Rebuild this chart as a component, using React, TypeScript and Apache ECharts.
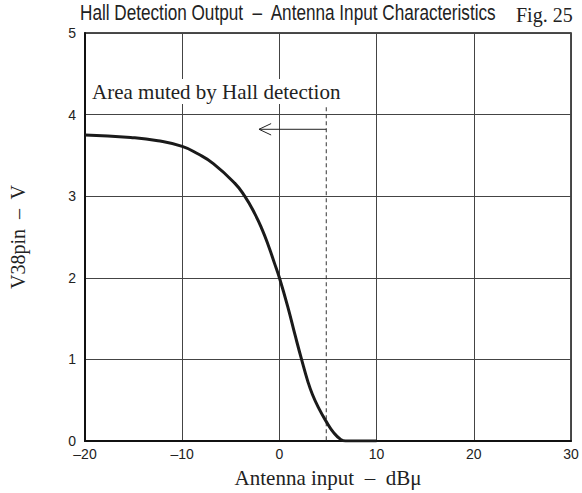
import React, { useEffect, useRef } from "react";
import * as echarts from "echarts";

const curveX = [-20, -15.3, -12.5, -10, -8.4, -6.8, -4.6, -3.57, -2.55, -1.77, -1.09, -0.51, 0, 0.85, 1.63, 2.28, 2.9, 3.4, 4.1, 4.76, 5.6, 6.3, 6.8, 8, 10];
const curveY = [3.75, 3.72, 3.68, 3.61, 3.52, 3.4, 3.16, 3.0, 2.79, 2.59, 2.38, 2.18, 2.0, 1.65, 1.29, 1.0, 0.74, 0.57, 0.39, 0.25, 0.1, 0.02, 0, 0, 0];

const muteX = 4.82;
const muteTopY = 4.09;
const arrowY = 3.82;
const arrowEndX = -2.1;

const xTicks = [-20, -10, 0, 10, 20, 30];
const yTicks = [0, 1, 2, 3, 4, 5];

const titleText = "Hall Detection Output  \u2013  Antenna Input Characteristics";
const figText = "Fig. 25";
const noteText = "Area muted by Hall detection";
const xName = "Antenna input  \u2013  dB\u03bc";
const yName = "V38pin  \u2013  V";

export default function App() {
  const ref = useRef<HTMLDivElement>(null);
  useEffect(() => {
    if (!ref.current) return;
    const chart = echarts.init(ref.current, undefined, { renderer: "svg" });
    const serif = "'Liberation Serif', 'Times New Roman', serif";
    const sans = "'Liberation Sans', Arial, sans-serif";
    const dash = (v: number) => String(v).replace("-", "\u2013");
    chart.setOption({
      animation: false,
      backgroundColor: "#fff",
      grid: { left: 81, right: 11, top: 33, bottom: 52, show: true, borderColor: "#111", borderWidth: 1.5, backgroundColor: "transparent" },
      xAxis: {
        type: "value",
        min: xTicks[0],
        max: xTicks[xTicks.length - 1],
        interval: 10,
        name: xName,
        nameLocation: "middle",
        nameGap: 26,
        nameTextStyle: { fontFamily: serif, fontSize: 21, color: "#222" },
        axisLine: { show: true, onZero: false, lineStyle: { color: "#111", width: 2 } },
        axisTick: { show: false },
        axisLabel: { fontFamily: sans, fontSize: 14, color: "#222", margin: 6, formatter: dash },
        splitLine: { show: true, lineStyle: { color: "#444", width: 1 } },
      },
      yAxis: {
        type: "value",
        min: yTicks[0],
        max: yTicks[yTicks.length - 1],
        interval: 1,
        name: yName,
        nameLocation: "middle",
        nameGap: 57,
        nameRotate: 90,
        nameTextStyle: { fontFamily: serif, fontSize: 20, color: "#222" },
        axisLine: { show: true, onZero: false, lineStyle: { color: "#111", width: 2 } },
        axisTick: { show: false },
        axisLabel: { fontFamily: sans, fontSize: 14, color: "#222", margin: 9, formatter: dash },
        splitLine: { show: true, lineStyle: { color: "#444", width: 1 } },
      },
      graphic: [
        {
          type: "text",
          x: 80,
          y: 1.5,
          scaleX: 0.78,
          z: 100,
          style: { text: titleText, font: `22px ${sans}`, fill: "#222", verticalAlign: "top" },
        },
        {
          type: "text",
          x: 516,
          y: 4.5,
          z: 100,
          style: { text: figText, font: `20px ${serif}`, fill: "#222", verticalAlign: "top" },
        },
        {
          type: "text",
          left: 90,
          top: 79,
          z: 100,
          style: {
            text: noteText,
            font: `21px ${serif}`,
            fill: "#222",
            backgroundColor: "#fff",
            padding: [2, 2, 2, 2],
          },
        },
      ],
      series: [
        {
          type: "line",
          data: curveX.map((x, i) => [x, curveY[i]]),
          smooth: 0.5,
          showSymbol: false,
          symbol: "none",
          lineStyle: { color: "#1a1a1a", width: 3 },
          z: 5,
        },
        {
          type: "line",
          data: [[muteX, muteTopY], [muteX, 0]],
          showSymbol: false,
          symbol: "none",
          lineStyle: { color: "#333", width: 1, type: [4, 3] },
          z: 4,
        },
        {
          type: "line",
          data: [[muteX, arrowY], [arrowEndX, arrowY]],
          showSymbol: false,
          symbol: "none",
          lineStyle: { color: "#222", width: 1 },
          z: 4,
        },
        {
          type: "line",
          data: [[arrowEndX + 1.25, arrowY + 0.07], [arrowEndX, arrowY], [arrowEndX + 1.25, arrowY - 0.07]],
          showSymbol: false,
          symbol: "none",
          lineStyle: { color: "#222", width: 1 },
          z: 4,
        },
      ],
    });
    return () => chart.dispose();
  }, []);
  return <div ref={ref} style={{ position: "fixed", left: 0, top: 0, width: 582, height: 493 }} />;
}
